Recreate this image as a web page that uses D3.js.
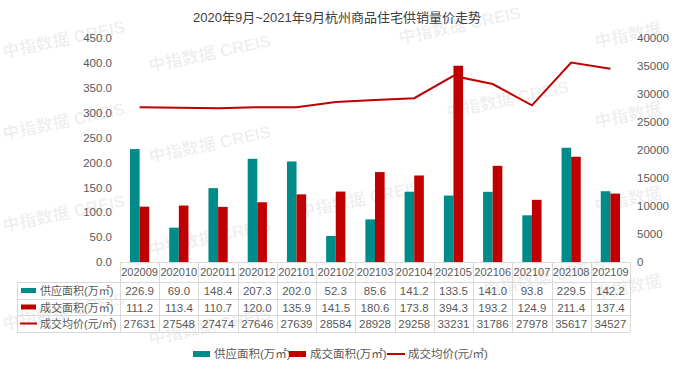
<!DOCTYPE html>
<html>
<head>
<meta charset="utf-8">
<script src="https://cdn.jsdelivr.net/npm/d3@7"></script>
<style>
  body { margin: 0; background: #fff; }
  svg text { font-family: "Liberation Sans", Arial, "Noto Sans CJK SC", sans-serif; }
</style>
</head>
<body>
<div id="chart"></div>
<script>
var categories = ["202009", "202010", "202011", "202012", "202101", "202102", "202103", "202104", "202105", "202106", "202107", "202108", "202109"];
var supplyArea = [226.9, 69.0, 148.4, 207.3, 202.0, 52.3, 85.6, 141.2, 133.5, 141.0, 93.8, 229.5, 142.2];
var dealArea = [111.2, 113.4, 110.7, 120.0, 135.9, 141.5, 180.6, 173.8, 394.3, 193.2, 124.9, 211.4, 137.4];
var avgPrice = [27631, 27548, 27474, 27646, 27639, 28584, 28928, 29258, 33231, 31786, 27978, 35617, 34527];
var leftTicks = [0, 50, 100, 150, 200, 250, 300, 350, 400, 450];
var rightTicks = [0, 5000, 10000, 15000, 20000, 25000, 30000, 35000, 40000];
var seriesNames = ["供应面积(万㎡)", "成交面积(万㎡)", "成交均价(元/㎡)"];
var titleText = "2020年9月~2021年9月杭州商品住宅供销量价走势";

var width = 674, height = 370;
var plot = { left: 120, right: 630, top: 38, bottom: 262 };
var teal = "#008b8b", red = "#c00000", textColor = "#595959", gridColor = "#d9d9d9";

var svg = d3.select("#chart").append("svg")
  .attr("width", width)
  .attr("height", height);

// watermarks
var marks = [
  [4, 58, "中指数据 CREIS"], [150, 72, "中指数据 CREIS"], [400, 44, "中指数据 CREIS"], [596, 48, "中指数据"],
  [4, 140, "中指数据 CREIS"], [150, 163, "中指数据 CREIS"], [448, 118, "中指数据 CREIS"], [596, 128, "中指数据"],
  [4, 232, "中指数据 CREIS"], [150, 256, "中指数据 CREIS"], [300, 218, "中指数据 CREIS"], [596, 212, "中指数据"],
  [4, 330, "中指数据 CREIS"], [150, 345, "中指数据 CREIS"], [485, 296, "中指数据 CREIS"], [596, 300, "中指数据"]
];
svg.append("g").selectAll("text").data(marks).enter().append("text")
  .attr("transform", function(d) { return "translate(" + d[0] + "," + d[1] + ") rotate(-12)"; })
  .attr("fill", "#000")
  .attr("fill-opacity", 0.07)
  .attr("font-size", 17)
  .attr("font-weight", "bold")
  .text(function(d) { return d[2]; });

// title
svg.append("text")
  .attr("x", 337).attr("y", 22)
  .attr("text-anchor", "middle")
  .attr("font-size", 13)
  .attr("fill", "#404040")
  .text(titleText);

var xScale = d3.scaleBand().domain(categories).range([plot.left, plot.right]);
var bw = xScale.bandwidth();
var xInner = d3.scaleBand().domain([0, 1]).range([bw * 0.255, bw * 0.745]);
var yLeft = d3.scaleLinear().domain([0, 450]).range([plot.bottom, plot.top]);
var yRight = d3.scaleLinear().domain([0, 40000]).range([plot.bottom, plot.top]);

// left axis
var leftAxis = svg.append("g")
  .attr("transform", "translate(" + (plot.left - 2) + ",0)")
  .call(d3.axisLeft(yLeft).tickValues(leftTicks).tickFormat(d3.format(".1f")).tickSize(0).tickPadding(6));
leftAxis.select(".domain").remove();
leftAxis.selectAll("text").attr("font-size", 11.5).attr("fill", textColor);

// right axis
var rightAxis = svg.append("g")
  .attr("transform", "translate(" + (plot.right + 1) + ",0)")
  .call(d3.axisRight(yRight).tickValues(rightTicks).tickFormat(d3.format("d")).tickSize(0).tickPadding(6));
rightAxis.select(".domain").remove();
rightAxis.selectAll("text").attr("font-size", 11.5).attr("fill", textColor);

// bars
var groups = svg.append("g").selectAll("g").data(categories).enter().append("g")
  .attr("transform", function(d) { return "translate(" + xScale(d) + ",0)"; });
groups.append("rect")
  .attr("x", xInner(0))
  .attr("width", xInner.bandwidth())
  .attr("y", function(d, i) { return yLeft(supplyArea[i]); })
  .attr("height", function(d, i) { return plot.bottom - yLeft(supplyArea[i]); })
  .attr("fill", teal);
groups.append("rect")
  .attr("x", xInner(1))
  .attr("width", xInner.bandwidth())
  .attr("y", function(d, i) { return yLeft(dealArea[i]); })
  .attr("height", function(d, i) { return plot.bottom - yLeft(dealArea[i]); })
  .attr("fill", red);

// price line
var line = d3.line()
  .x(function(d, i) { return xScale(categories[i]) + bw / 2; })
  .y(function(d) { return yRight(d); });
svg.append("path")
  .datum(avgPrice)
  .attr("d", line)
  .attr("fill", "none")
  .attr("stroke", red)
  .attr("stroke-width", 2);

// data table
var tableLeft = 17;
var rowTops = [262, 282, 299, 315, 332];
var table = svg.append("g");

// horizontal lines
table.append("line").attr("x1", plot.left).attr("x2", plot.right).attr("y1", rowTops[0] + 0.5).attr("y2", rowTops[0] + 0.5);
for (var r = 1; r < rowTops.length; r++) {
  table.append("line").attr("x1", tableLeft).attr("x2", plot.right).attr("y1", rowTops[r] + 0.5).attr("y2", rowTops[r] + 0.5);
}
// vertical lines
table.append("line").attr("x1", tableLeft + 0.5).attr("x2", tableLeft + 0.5).attr("y1", rowTops[1]).attr("y2", rowTops[4]);
categories.forEach(function(c) {
  var x = Math.round(xScale(c)) + 0.5;
  table.append("line").attr("x1", x).attr("x2", x).attr("y1", rowTops[0]).attr("y2", rowTops[4]);
});
table.append("line").attr("x1", plot.right + 0.5).attr("x2", plot.right + 0.5).attr("y1", rowTops[0]).attr("y2", rowTops[4]);
table.selectAll("line").attr("stroke", gridColor).attr("stroke-width", 1);

// header row
table.selectAll(".cat").data(categories).enter().append("text")
  .attr("class", "cat")
  .attr("x", function(d) { return xScale(d) + bw / 2; })
  .attr("y", rowTops[0] + 14)
  .attr("text-anchor", "middle")
  .attr("font-size", 11)
  .attr("fill", textColor)
  .text(function(d) { return d; });

var rowsData = [
  supplyArea.map(function(v) { return v.toFixed(1); }),
  dealArea.map(function(v) { return v.toFixed(1); }),
  avgPrice.map(function(v) { return String(v); })
];
rowsData.forEach(function(vals, r) {
  var yText = rowTops[r + 1] + 13;
  table.append("g").selectAll("text").data(vals).enter().append("text")
    .attr("x", function(d, i) { return xScale(categories[i]) + bw / 2; })
    .attr("y", yText)
    .attr("text-anchor", "middle")
    .attr("font-size", 11.5)
    .attr("fill", textColor)
    .text(function(d) { return d; });

  var yMid = (rowTops[r + 1] + rowTops[r + 2]) / 2;
  if (r < 2) {
    table.append("rect").attr("x", 21).attr("y", yMid - 2.5).attr("width", 15).attr("height", 5)
      .attr("fill", r === 0 ? teal : red);
  } else {
    table.append("line").attr("x1", 20).attr("x2", 37).attr("y1", yMid).attr("y2", yMid)
      .attr("stroke", red).attr("stroke-width", 2);
  }
  table.append("text")
    .attr("x", 40)
    .attr("y", yText)
    .attr("font-size", 11)
    .attr("fill", textColor)
    .text(seriesNames[r]);
});

// legend
var legend = svg.append("g").attr("transform", "translate(0,354)");
var legendItems = [
  { x: 193, name: seriesNames[0], type: "rect", color: teal },
  { x: 289, name: seriesNames[1], type: "rect", color: red },
  { x: 387, name: seriesNames[2], type: "line", color: red }
];
legendItems.forEach(function(item) {
  if (item.type === "rect") {
    legend.append("rect").attr("x", item.x).attr("y", -3).attr("width", 17).attr("height", 6).attr("fill", item.color);
  } else {
    legend.append("line").attr("x1", item.x).attr("x2", item.x + 18).attr("y1", 0).attr("y2", 0)
      .attr("stroke", item.color).attr("stroke-width", 2);
  }
  legend.append("text")
    .attr("x", item.x + 21)
    .attr("y", 4)
    .attr("font-size", 11.5)
    .attr("fill", textColor)
    .text(item.name);
});
</script>
</body>
</html>
